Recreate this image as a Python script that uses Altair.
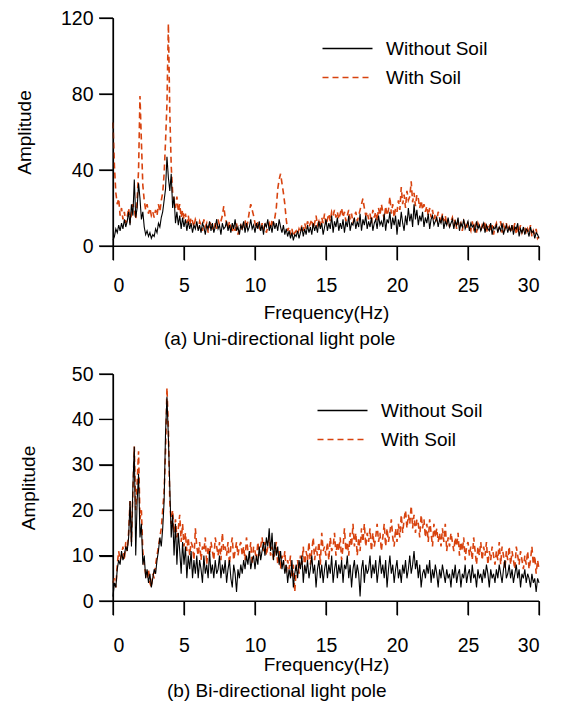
import altair as alt
import pandas as pd

freq = [round(i * 0.1, 1) for i in range(301)]

top_without = [
    3, 5, 9, 7, 11, 8, 12, 9, 14, 10,
    13, 18, 11, 22, 16, 35, 15, 20, 33, 25,
    14, 18, 10, 6, 8, 5, 7, 4, 6, 5,
    9, 7, 12, 10, 15, 18, 24, 30, 47, 36,
    29, 38, 20, 26, 12, 18, 11, 16, 9, 15,
    10, 14, 8, 13, 9, 12, 7, 11, 9, 13,
    8, 11, 7, 12, 10, 6, 11, 9, 13, 8,
    12, 7, 10, 14, 9, 11, 6, 12, 9, 10,
    13, 8, 11, 7, 12, 9, 14, 8, 10, 6,
    11, 9, 13, 7, 12, 8, 10, 14, 9, 11,
    7, 12, 9, 13, 8, 11, 6, 12, 10, 14,
    8, 11, 7, 13, 9, 12, 8, 14, 10, 7,
    11, 6, 9, 5, 8, 4, 7, 3, 6, 5,
    8, 4, 7, 10, 5, 9, 6, 11, 7, 10,
    6, 12, 8, 11, 7, 13, 9, 12, 6, 10,
    14, 8, 12, 9, 16, 7, 13, 10, 15, 8,
    12, 9, 14, 7, 13, 10, 16, 8, 12, 11,
    15, 9, 13, 10, 17, 8, 14, 11, 16, 9,
    13, 10, 15, 8, 12, 14, 9, 16, 11, 13,
    10, 17, 8, 14, 12, 18, 9, 15, 11, 16,
    6, 14, 10, 18, 12, 8, 16, 11, 20, 13,
    17, 10, 22, 14, 19, 11, 16, 13, 18, 10,
    15, 12, 17, 9, 14, 16, 11, 13, 15, 10,
    14, 12, 16, 9, 13, 11, 15, 10, 12, 14,
    9, 13, 11, 15, 8, 12, 10, 14, 9, 11,
    13, 8, 12, 10, 11, 7, 13, 9, 11, 8,
    10, 12, 7, 11, 9, 8, 12, 6, 10, 9,
    11, 7, 10, 8, 12, 6, 9, 11, 7, 10,
    8, 11, 6, 10, 9, 12, 5, 9, 7, 10,
    6, 9, 8, 5, 10, 7, 8, 4, 7, 6,
    4,
]

top_with = [
    65, 42, 28, 22, 25, 16, 20, 14, 18, 12,
    15, 20, 12, 17, 22, 19, 14, 24, 40, 79,
    55, 32, 24, 19, 22, 17, 20, 16, 18, 15,
    19, 16, 22, 18, 24, 28, 38, 55, 75, 117,
    70, 42, 28, 24, 20, 26, 18, 22, 15, 19,
    14, 17, 12, 16, 11, 15, 13, 10, 14, 12,
    9, 13, 11, 8, 14, 10, 12, 7, 11, 13,
    10, 8, 12, 9, 14, 11, 13, 16, 21, 15,
    12, 9, 13, 10, 7, 11, 8, 12, 6, 10,
    11, 8, 12, 14, 9, 13, 18, 22, 19, 16,
    12, 9, 13, 10, 8, 12, 9, 11, 7, 10,
    12, 9, 14, 11, 15, 20, 30, 35, 38, 33,
    28, 22, 14, 8, 10, 6, 9, 5, 7, 8,
    6, 9, 7, 11, 8, 12, 9, 13, 10, 12,
    14, 9, 12, 16, 11, 13, 10, 15, 12, 17,
    11, 14, 17, 13, 18, 16, 19, 15, 18, 14,
    17, 20, 15, 18, 13, 16, 19, 14, 17, 12,
    15, 18, 13, 16, 19, 22, 25, 20, 16, 18,
    14, 17, 12, 19, 15, 18, 13, 20, 16, 22,
    18, 14, 21, 16, 19, 26, 17, 22, 15, 20,
    18, 24, 19, 31, 22, 27, 20, 29, 24, 26,
    34, 23, 28, 21, 27, 25, 20, 24, 19, 22,
    18, 21, 16, 20, 15, 19, 14, 17, 13, 18,
    15, 12, 17, 13, 16, 11, 14, 10, 13, 15,
    11, 14, 9, 13, 10, 12, 8, 13, 11, 9,
    12, 10, 8, 13, 9, 11, 7, 12, 10, 8,
    11, 9, 13, 7, 10, 12, 8, 11, 6, 10,
    12, 8, 10, 13, 7, 11, 9, 12, 8, 10,
    7, 11, 9, 12, 6, 10, 8, 11, 7, 9,
    10, 6, 9, 7, 11, 5, 8, 6, 9, 4,
    5,
]

bot_without = [
    1, 4, 3, 7, 9, 8, 11, 9, 10, 12,
    11, 14, 22, 12, 25, 34, 10, 22, 28, 14,
    17, 8, 10, 5, 7, 4, 6, 3, 5, 7,
    6, 9, 11, 14, 12, 16, 22, 37, 45, 36,
    25, 14, 19, 10, 17, 8, 15, 11, 6, 13,
    8, 12, 5, 10, 7, 11, 5, 9, 6, 10,
    5, 9, 7, 4, 10, 6, 8, 5, 11, 6,
    8, 5, 9, 6, 7, 10, 5, 8, 6, 9,
    4, 7, 9, 5, 3, 8, 6, 2, 7, 5,
    8, 6, 9, 7, 10, 8, 11, 7, 9, 10,
    7, 10, 8, 12, 9, 11, 13, 10, 14, 12,
    16, 11, 15, 9, 13, 10, 12, 8, 11, 7,
    9, 6, 8, 4, 7, 5, 9, 3, 6, 8,
    5, 9, 7, 10, 4, 8, 6, 9, 5, 7,
    10, 6, 8, 3, 7, 9, 5, 8, 4, 7,
    9, 5, 8, 6, 10, 4, 7, 9, 5, 8,
    6, 9, 4, 8, 7, 10, 5, 8, 3, 7,
    9, 5, 8, 6, 1, 7, 9, 4, 8, 6,
    7, 10, 5, 8, 6, 9, 4, 7, 10, 6,
    8, 5, 9, 3, 7, 10, 6, 8, 4, 7,
    9, 5, 7, 4, 8, 6, 9, 5, 7, 10,
    6, 8, 11, 7, 9, 5, 8, 3, 6, 7,
    5, 8, 6, 9, 4, 7, 5, 8, 6, 3,
    7, 5, 8, 6, 4, 7, 5, 6, 3, 7,
    5, 8, 4, 6, 7, 3, 6, 5, 8, 4,
    6, 7, 4, 8, 5, 6, 3, 7, 5, 6,
    4, 7, 5, 8, 6, 3, 7, 5, 6, 4,
    7, 5, 8, 6, 4, 7, 9, 5, 6, 8,
    5, 7, 4, 6, 8, 5, 7, 3, 6, 5,
    7, 4, 6, 5, 3, 6, 4, 5, 2, 5,
    4,
]

bot_with = [
    4, 5, 3, 8, 11, 9, 10, 12, 9, 13,
    11, 15, 22, 13, 24, 34, 20, 26, 33, 18,
    20, 11, 8, 6, 5, 7, 4, 3, 6, 5,
    8, 10, 12, 14, 16, 20, 24, 33, 47, 38,
    22, 17, 20, 15, 18, 14, 16, 19, 13, 17,
    12, 15, 11, 14, 10, 13, 12, 9, 16, 12,
    10, 13, 9, 12, 11, 14, 8, 12, 10, 13,
    11, 9, 14, 12, 10, 13, 9, 15, 11, 12,
    10, 13, 8, 12, 14, 9, 11, 13, 10, 12,
    13, 10, 12, 9, 14, 11, 10, 13, 8, 12,
    11, 9, 13, 10, 12, 14, 11, 13, 10, 12,
    14, 10, 12, 9, 11, 13, 8, 11, 7, 10,
    8, 11, 6, 9, 7, 10, 5, 8, 2, 7,
    9, 6, 10, 8, 12, 7, 11, 9, 13, 8,
    11, 14, 9, 12, 10, 13, 8, 15, 11, 12,
    10, 13, 9, 14, 11, 12, 15, 10, 13, 11,
    14, 9, 12, 16, 11, 13, 10, 15, 12, 17,
    12, 15, 10, 14, 11, 16, 13, 17, 12, 15,
    13, 16, 11, 15, 12, 14, 17, 13, 15, 11,
    14, 17, 12, 16, 13, 15, 18, 14, 12, 16,
    13, 17, 14, 19, 15, 18, 20, 16, 19, 17,
    21, 16, 19, 15, 18, 17, 14, 19, 16, 18,
    14, 17, 13, 18, 15, 12, 17, 14, 16, 13,
    15, 12, 16, 13, 17, 11, 14, 12, 15, 13,
    11, 14, 12, 15, 10, 13, 11, 14, 9, 12,
    13, 10, 12, 9, 14, 11, 8, 12, 10, 13,
    9, 12, 10, 13, 8, 11, 9, 12, 10, 8,
    11, 9, 13, 8, 12, 10, 7, 11, 9, 12,
    8, 11, 9, 7, 12, 10, 8, 11, 9, 7,
    10, 8, 11, 7, 9, 12, 8, 10, 6, 9,
    7,
]

series = ["Without Soil", "With Soil"]
colors = ["#000000", "#d8430f"]
dashes = [[1, 0], [6, 4]]
x_ticks = [0, 5, 10, 15, 20, 25, 30]
x_max = 30

FONT = "Liberation Sans"
AXIS_COLOR = "#000000"
TICK = 14
LW = 1.2
WIDTH = 426

AXIS_STYLE = dict(
    domain=True, ticks=True, grid=False, tickSize=TICK,
    domainColor=AXIS_COLOR, tickColor=AXIS_COLOR,
    domainWidth=LW, tickWidth=LW,
    labelFont=FONT, labelFontSize=19.5, labelColor="#000000",
    titleFont=FONT, titleFontSize=19, titleFontWeight="normal",
    titleColor="#000000",
)


def panel(without, with_soil, y_ticks, y_max, caption, cap_dx, title_x,
          height, leg_x, leg_y, x_lab_pad, x_title_pad, cap_offset):
    df_with = pd.DataFrame({"f": freq, "a": with_soil, "s": "With Soil"})
    df_wo = pd.DataFrame({"f": freq, "a": without, "s": "Without Soil"})

    legend = alt.Legend(
        title=None, orient="none", legendX=leg_x, legendY=leg_y,
        symbolType="M-5,0H5", symbolSize=100, symbolStrokeWidth=1.5,
        labelFontSize=19, labelFont=FONT, labelColor="#000000",
        labelOffset=29, rowPadding=9, padding=0,
    )
    color = alt.Color("s:N", scale=alt.Scale(domain=series, range=colors),
                      legend=legend)
    dash = alt.StrokeDash("s:N", scale=alt.Scale(domain=series, range=dashes),
                          legend=legend)
    x_scale = alt.Scale(domain=[0, x_max], nice=False)
    y_scale = alt.Scale(domain=[0, y_max], nice=False)
    x_axis = alt.Axis(values=x_ticks, title="Frequency(Hz)",
                      labelPadding=x_lab_pad, titlePadding=x_title_pad,
                      **AXIS_STYLE)
    y_axis = alt.Axis(values=y_ticks, title="Amplitude",
                      titleX=title_x, titleY=height / 2,
                      titleBaseline="middle", titleAlign="center",
                      labelPadding=6, **AXIS_STYLE)
    x = alt.X("f:Q", scale=x_scale, axis=x_axis)
    y = alt.Y("a:Q", scale=y_scale, axis=y_axis)

    # axis frame: domain lines and outward ticks built from the tick values
    dy = TICK * y_max / height      # tick length in y data units
    dx = TICK * x_max / WIDTH       # tick length in x data units
    rows = []
    rows += [{"k": "xd", "f": 0, "a": 0}, {"k": "xd", "f": x_max, "a": 0}]
    rows += [{"k": "yd", "f": 0, "a": 0}, {"k": "yd", "f": 0, "a": y_max}]
    for t in x_ticks:
        rows += [{"k": f"x{t}", "f": t, "a": 0},
                 {"k": f"x{t}", "f": t, "a": -dy}]
    for v in y_ticks:
        rows += [{"k": f"y{v}", "f": 0, "a": v},
                 {"k": f"y{v}", "f": -dx, "a": v}]
    frame = alt.Chart(pd.DataFrame(rows)).mark_line(
        color=AXIS_COLOR, strokeWidth=LW, clip=False).encode(
        x=x, y=y, detail="k:N", order=alt.Order("a:Q"))

    red = alt.Chart(df_with).mark_line(strokeWidth=1.6).encode(
        x=x, y=y, color=color, strokeDash=dash)
    black = alt.Chart(df_wo).mark_line(strokeWidth=1.1).encode(
        x=x, y=y, color=color, strokeDash=dash)

    return alt.layer(red, black, frame).properties(
        width=WIDTH, height=height,
        title=alt.TitleParams(caption, orient="bottom", anchor="start",
                              frame="group", dx=cap_dx, offset=cap_offset,
                              fontSize=19, fontWeight="normal", font=FONT,
                              color="#000000"),
    )


top = panel(top_without, top_with, [0, 40, 80, 120], 120,
            "(a) Uni-directional light pole", 51, -89, 228, 225, 21, 16, 9, 7)
bottom = panel(bot_without, bot_with, [0, 10, 20, 30, 40, 50], 50,
               "(b) Bi-directional light pole", 54, -85, 227, 220, 27, 21, 1, 7)

chart = alt.vconcat(top, bottom, spacing=15).resolve_scale(
    color="independent", strokeDash="independent"
).properties(
    padding={"left": 6, "top": 0, "right": 5, "bottom": 5}
).configure_view(stroke=None)

chart.save("out.html", embed_options={"renderer": "svg", "actions": False})
